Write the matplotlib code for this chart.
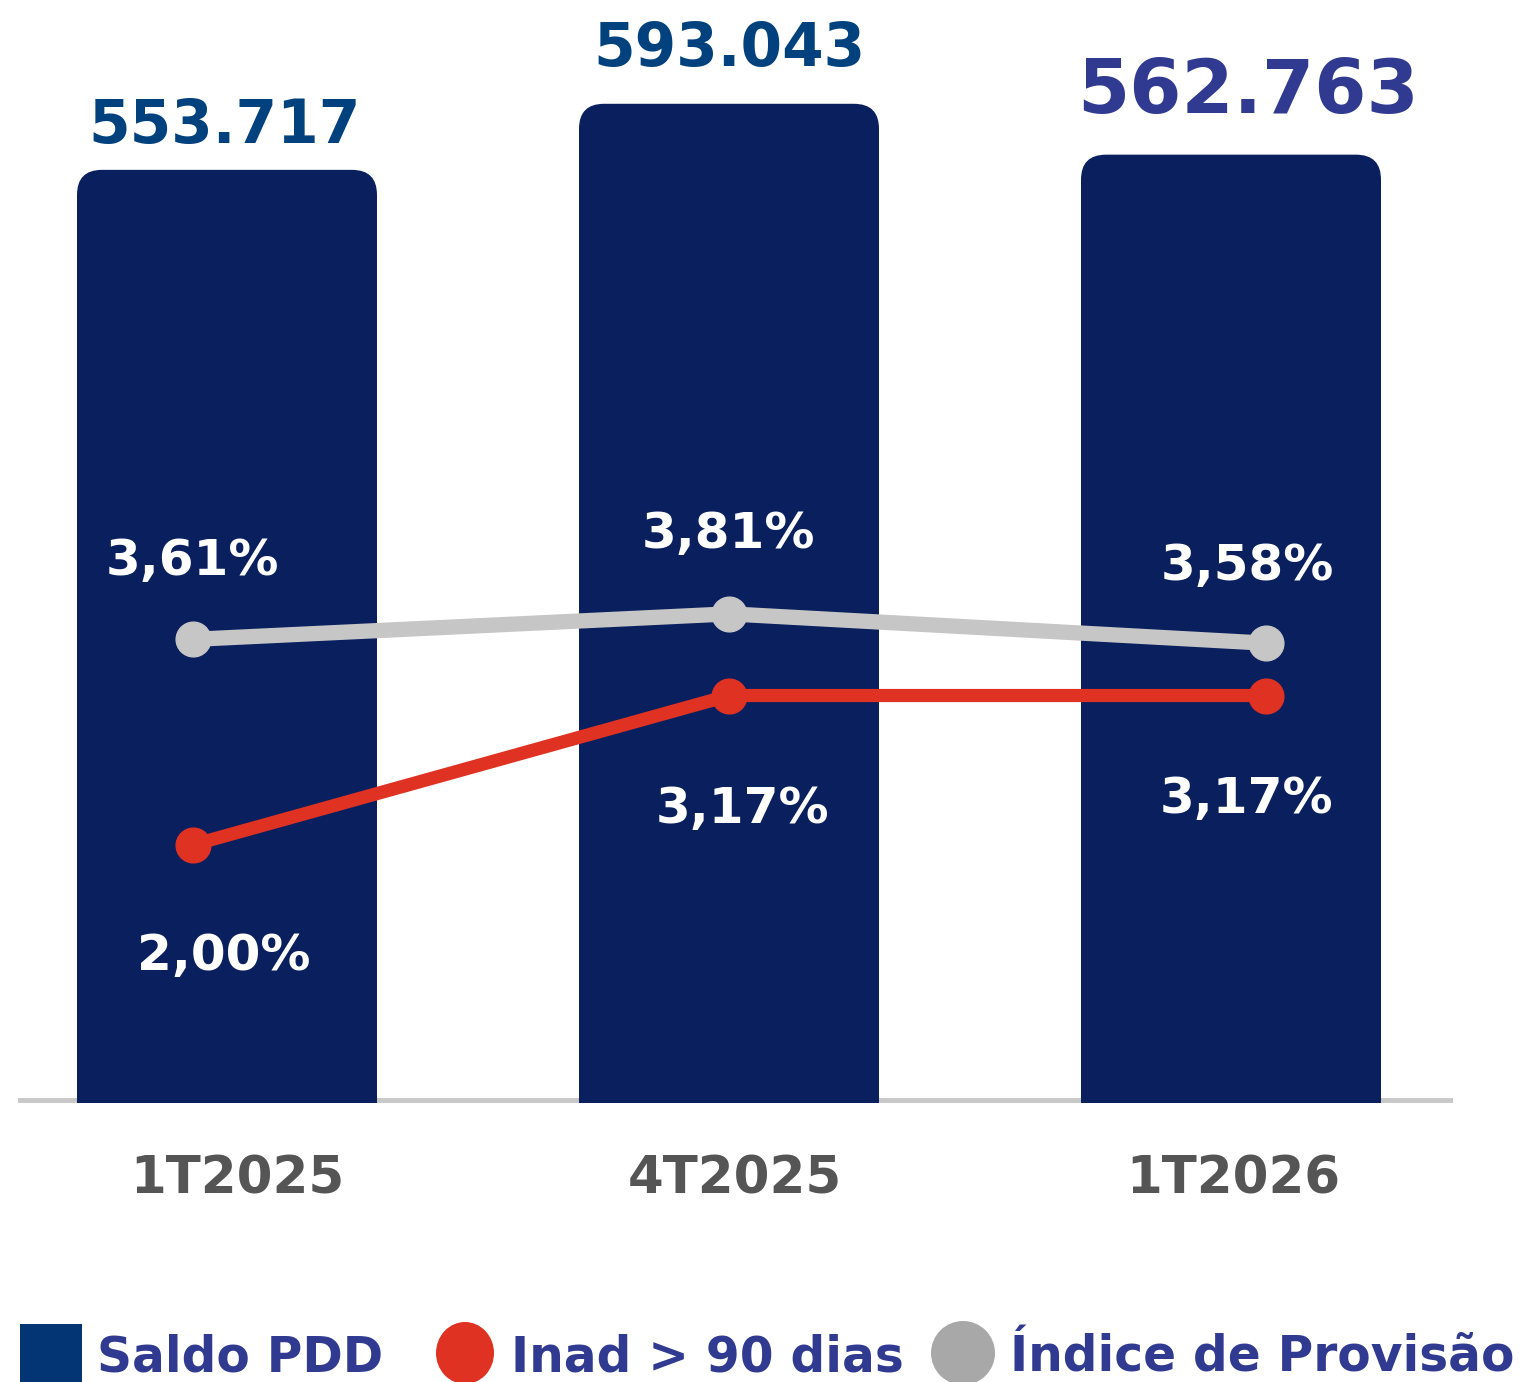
#!/usr/bin/env python3
import matplotlib
matplotlib.use("Agg")
import matplotlib.pyplot as plt
from matplotlib.patches import FancyBboxPatch, Rectangle, Ellipse

# dados
periodos = ["1T2025", "4T2025", "1T2026"]
saldo_pdd = [553717, 593043, 562763]
saldo_txt = ["553.717", "593.043", "562.763"]
inad_90 = [2.00, 3.17, 3.17]
indice_prov = [3.61, 3.81, 3.58]

NAVY = "#0a1f5e"
RED = "#e03222"
GRAY = "#c6c6c6"
BLUE_TXT = "#00417e"
PURPLE_TXT = "#303a91"

plt.rcParams['font.family'] = ['DejaVu Sans']
W, H = 1537, 1382
fig = plt.figure(figsize=(W / 100, H / 100), dpi=100)

# eixo das barras (pixels: x 18..1453, y 0..1103, zero em y=1100)
left, right, top, bottom = 18, 1453, 0, 1103
rect = [left / W, (H - bottom) / H, (right - left) / W, (bottom - top) / H]
ax = fig.add_axes(rect)
upp = 595.3   # unidades por pixel
ax.set_xlim((left - 227) / 502, (right - 227) / 502)
ax.set_ylim(-(bottom - 1100) * upp, 1100 * upp)
ax.axis("off")

bw = 300 / 502
rad = 25 / 502
for i, v in enumerate(saldo_pdd):
    p = FancyBboxPatch((i - bw / 2, -30000), bw, v + 30000,
                       boxstyle=f"round,pad=0,rounding_size={rad}",
                       mutation_aspect=25 * upp / rad,
                       fc=NAVY, ec="none", zorder=2)
    ax.add_patch(p)
ax.axhline(0, xmin=0, xmax=1, color="#c8c8c8", lw=3.5, zorder=1)

val_off = [(-2, 27), (0, 38), (17, 42)]
val_sz = [43, 43, 54]
val_col = [BLUE_TXT, BLUE_TXT, PURPLE_TXT]
for i, v in enumerate(saldo_pdd):
    ax.annotate(saldo_txt[i], (i, v), xytext=val_off[i], textcoords="offset pixels",
                ha="center", va="baseline", fontsize=val_sz[i], fontweight="bold",
                color=val_col[i], zorder=5)

cat_dx = [10, 6, 2]
for i, lab in enumerate(periodos):
    ax.annotate(lab, (i, 0), xytext=(cat_dx[i], -93), textcoords="offset pixels",
                ha="center", va="baseline", fontsize=37, fontweight="bold",
                color="#555555", annotation_clip=False)

# eixo das linhas (%)
ax2 = fig.add_axes(rect)
ppp = 127.6   # pixels por ponto percentual
ax2.set_xlim((left - 193) / 536.5, (right - 193) / 536.5)
ax2.set_ylim(-(bottom - 1100) / ppp, 1100 / ppp)
ax2.axis("off")
ax2.patch.set_alpha(0)

xs = range(len(periodos))
ax2.plot(xs, indice_prov, color=GRAY, lw=11, marker="o", ms=25, zorder=4,
         solid_capstyle="round")
ax2.plot(xs, inad_90, color=RED, lw=9.5, marker="o", ms=25, zorder=4,
         solid_capstyle="round")

def pct(v):
    return f"{v:.2f}".replace(".", ",") + "%"

gray_off = [(-1, 64), (-1, 66), (-19, 63)]
red_off = [(31, -125), (13, -127), (-19, -117)]
for i in xs:
    ax2.annotate(pct(indice_prov[i]), (i, indice_prov[i]), xytext=gray_off[i],
                 textcoords="offset pixels", ha="center", va="baseline",
                 fontsize=36, fontweight="bold", color="white", zorder=6)
    ax2.annotate(pct(inad_90[i]), (i, inad_90[i]), xytext=red_off[i],
                 textcoords="offset pixels", ha="center", va="baseline",
                 fontsize=36, fontweight="bold", color="white", zorder=6)

# legenda manual em pixels
lg = fig.add_axes([0, 0, 1, 1])
lg.set_xlim(0, W)
lg.set_ylim(H, 0)
lg.axis("off")
lg.patch.set_alpha(0)
lg.add_patch(Rectangle((20, 1324), 62, 70, fc="#033575", ec="none"))
lg.add_patch(Ellipse((465, 1353), 58, 62, fc=RED, ec="none"))
lg.add_patch(Ellipse((963, 1353), 64, 64, fc="#a8a8a8", ec="none"))
for x0, t in [(97, "Saldo PDD"), (511, "Inad > 90 dias"), (1010, "Índice de Provisão")]:
    lg.text(x0, 1371, t, ha="left", va="baseline", fontsize=35, fontweight="bold",
            color=PURPLE_TXT)

fig.savefig("out.png", dpi=100)
